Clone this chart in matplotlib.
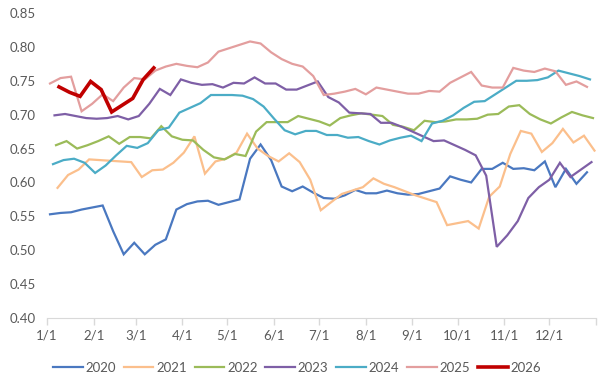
import pandas as pd
import numpy as np
import matplotlib
matplotlib.use('Agg')
import matplotlib.pyplot as plt

plt.rcParams['font.family'] = ['Lato', 'DejaVu Sans']

# first weekly observation (Fridays) of each year
start_dates = {
    '2020': '2020-01-03',
    '2021': '2021-01-08',
    '2022': '2022-01-07',
    '2023': '2023-01-06',
    '2024': '2024-01-05',
    '2025': '2025-01-03',
    '2026': '2026-01-09',
}

v2020 = [0.553, 0.555, 0.556, 0.560, 0.563, 0.566, 0.528, 0.494, 0.511, 0.494,
         0.508, 0.516, 0.560, 0.568, 0.572, 0.573, 0.567, 0.571, 0.575, 0.635,
         0.656, 0.633, 0.594, 0.587, 0.594, 0.585, 0.577, 0.576, 0.581, 0.589,
         0.584, 0.584, 0.588, 0.584, 0.582, 0.583, 0.587, 0.591, 0.609, 0.604,
         0.600, 0.620, 0.620, 0.629, 0.620, 0.621, 0.618, 0.631, 0.593, 0.620,
         0.598, 0.615]
v2021 = [0.592, 0.611, 0.619, 0.634, 0.633, 0.632, 0.631, 0.630, 0.608, 0.618,
         0.619, 0.629, 0.644, 0.668, 0.613, 0.631, 0.635, 0.644, 0.672, 0.650,
         0.639, 0.631, 0.643, 0.630, 0.604, 0.559, 0.571, 0.583, 0.588, 0.593,
         0.606, 0.598, 0.593, 0.587, 0.581, 0.576, 0.571, 0.537, 0.540, 0.543,
         0.532, 0.579, 0.594, 0.642, 0.676, 0.672, 0.645, 0.658, 0.679, 0.659,
         0.669, 0.647]
v2022 = [0.655, 0.661, 0.650, 0.655, 0.661, 0.668, 0.657, 0.667, 0.667, 0.665,
         0.683, 0.668, 0.663, 0.662, 0.648, 0.637, 0.634, 0.642, 0.639, 0.675,
         0.689, 0.689, 0.689, 0.698, 0.694, 0.690, 0.684, 0.695, 0.699, 0.702,
         0.700, 0.698, 0.685, 0.682, 0.677, 0.691, 0.689, 0.690, 0.693, 0.693,
         0.694, 0.700, 0.701, 0.712, 0.714, 0.701, 0.693, 0.687, 0.696, 0.704,
         0.699, 0.695]
v2023 = [0.699, 0.701, 0.698, 0.695, 0.694, 0.695, 0.698, 0.693, 0.698, 0.716,
         0.738, 0.729, 0.752, 0.747, 0.744, 0.745, 0.740, 0.747, 0.746, 0.755,
         0.746, 0.746, 0.737, 0.737, 0.743, 0.749, 0.726, 0.718, 0.703, 0.702,
         0.701, 0.688, 0.688, 0.682, 0.675, 0.668, 0.661, 0.662, 0.655, 0.648,
         0.640, 0.610, 0.505, 0.522, 0.543, 0.577, 0.593, 0.604, 0.629, 0.608,
         0.619, 0.630]
v2024 = [0.627, 0.633, 0.635, 0.629, 0.614, 0.625, 0.640, 0.654, 0.651, 0.658,
         0.677, 0.681, 0.703, 0.710, 0.717, 0.729, 0.729, 0.729, 0.728, 0.723,
         0.712, 0.694, 0.677, 0.671, 0.676, 0.676, 0.670, 0.670, 0.666, 0.667,
         0.661, 0.656, 0.662, 0.666, 0.669, 0.661, 0.687, 0.691, 0.699, 0.710,
         0.719, 0.720, 0.730, 0.740, 0.750, 0.750, 0.751, 0.755, 0.765, 0.761,
         0.757, 0.752]
v2025 = [0.746, 0.754, 0.756, 0.705, 0.716, 0.730, 0.720, 0.740, 0.754, 0.752,
         0.765, 0.771, 0.775, 0.772, 0.770, 0.777, 0.793, 0.798, 0.803, 0.808,
         0.805, 0.792, 0.782, 0.775, 0.771, 0.757, 0.729, 0.731, 0.734, 0.738,
         0.730, 0.740, 0.737, 0.734, 0.731, 0.731, 0.735, 0.734, 0.747, 0.755,
         0.763, 0.743, 0.740, 0.740, 0.769, 0.765, 0.763, 0.768, 0.764, 0.744,
         0.749, 0.741]
v2026 = [0.741, 0.733, 0.727, 0.749, 0.737, 0.704, 0.714, 0.724, 0.752, 0.769]

series = {'2020': v2020, '2021': v2021, '2022': v2022, '2023': v2023,
          '2024': v2024, '2025': v2025, '2026': v2026}

colors = {'2020': '#4a78c0', '2021': '#fbbf8c', '2022': '#9bbb59',
          '2023': '#7e5fa6', '2024': '#4bacc6', '2025': '#e39e9e',
          '2026': '#c00000'}

month_labels = ['1/1', '2/1', '3/1', '4/1', '5/1', '6/1', '7/1',
                '8/1', '9/1', '10/1', '11/1', '12/1']

fig = plt.figure(figsize=(6.01, 3.80), dpi=100)
ax = fig.add_axes([47 / 601, 62 / 380, 549 / 601, 305 / 380])

for year, vals in series.items():
    dates = pd.date_range(start_dates[year], periods=len(vals), freq='7D')
    days = (dates - pd.Timestamp(year + '-01-01')).days
    lw = 2.6 if year == '2026' else 1.6
    ax.plot(days, vals, color=colors[year], lw=lw, label=year,
            solid_joinstyle='miter')

# month ticks on a common (non-leap) year axis
month_starts = pd.date_range('2023-01-01', '2024-01-01', freq='MS')
tick_days = (month_starts - pd.Timestamp('2023-01-01')).days
ax.set_xticks(tick_days)
ax.set_xticklabels(month_labels + [''])
ax.set_xlim(0, 365)
ax.set_ylim(0.40, 0.85)
ax.set_yticks(np.arange(0.40, 0.851, 0.05))
ax.yaxis.set_major_formatter(matplotlib.ticker.FormatStrFormatter('%.2f'))

for s in ['top', 'right', 'left']:
    ax.spines[s].set_visible(False)
ax.spines['bottom'].set_color('#d9d9d9')
ax.tick_params(axis='x', colors='#d9d9d9', length=5, width=1, labelcolor='#595959',
               labelsize=9.5, pad=3)
ax.tick_params(axis='y', length=0, labelcolor='#595959', labelsize=9.5, pad=8)

fig.legend(loc='center', bbox_to_anchor=(297 / 601, 1 - 368 / 380), ncol=7,
           frameon=False, fontsize=9.5, handlelength=2.25, handletextpad=0.2,
           columnspacing=0.6, labelcolor='#595959')

fig.savefig('out.png', dpi=100)
